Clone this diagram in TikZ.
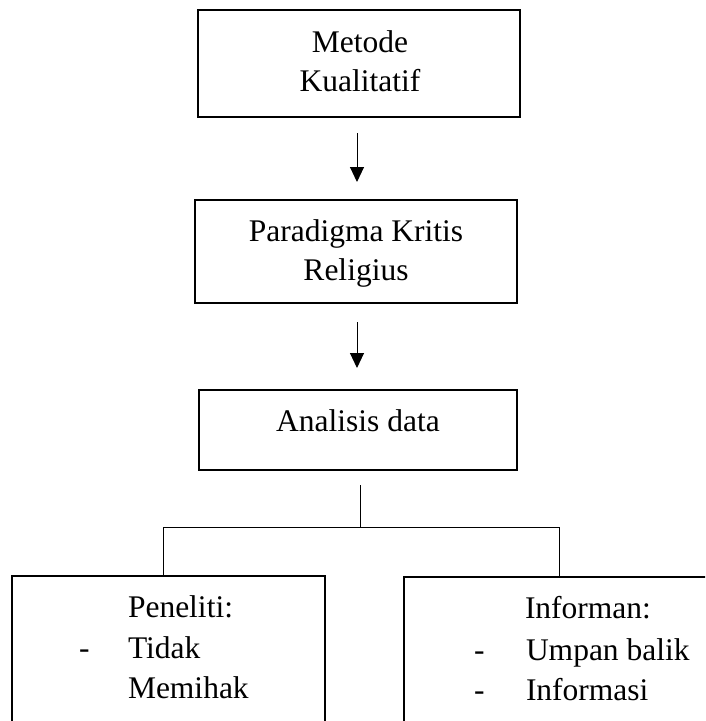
\documentclass[tikz,border=0pt]{standalone}
\usepackage{fontspec}
\setmainfont{Liberation Serif}
\usetikzlibrary{arrows.meta}
\begin{document}
\begin{tikzpicture}[x=1pt,y=-1pt,
  box/.style={draw,line width=1.8pt,inner sep=0pt,outer sep=0pt},
  txt/.style={inner sep=0pt,outer sep=0pt,font=\fontsize{31.5pt}{38pt}\selectfont},
  conn/.style={line width=1pt},
  arr/.style={line width=1pt,-{Triangle[width=14pt,length=15pt]}}]
\useasboundingbox (0,0) rectangle (705,721);
\clip (0,0) rectangle (705,721);
\fill[white] (0,0) rectangle (705,721);
% boxes
\node[box,minimum width=322pt,minimum height=107pt] (met) at (359,63.5) {};
\node[box,minimum width=322pt,minimum height=103pt] (par) at (356,251.5) {};
\node[box,minimum width=318pt,minimum height=80pt] (ana) at (358,430) {};
\node[box,minimum width=313pt,minimum height=224pt] (pen) at (168.5,688) {};
\node[box,minimum width=356pt,minimum height=223pt] (inf) at (582,688.5) {};
% texts
\node[txt,anchor=base] (t1) at (360,52) {Metode};
\node[txt,anchor=base] (t2) at (360,91) {Kualitatif};
\node[txt,anchor=base] (t3) at (356,241) {Paradigma Kritis};
\node[txt,anchor=base] (t4) at (356,280) {Religius};
\node[txt,anchor=base] (t5) at (358,431) {Analisis data};
\node[txt,anchor=base west] (p1) at (128,617) {Peneliti:};
\node[txt,anchor=base west] (p2d) at (79,658) {-};
\node[txt,anchor=base west] (p2) at (128,658) {Tidak};
\node[txt,anchor=base west] (p3) at (128,698) {Memihak};
\node[txt,anchor=base west] (i1) at (525,618) {Informan:};
\node[txt,anchor=base west] (i2d) at (474,660) {-};
\node[txt,anchor=base west] (i2) at (526,660) {Umpan balik};
\node[txt,anchor=base west] (i3d) at (474,700) {-};
\node[txt,anchor=base west] (i3) at (526,700) {Informasi};
% arrows
\coordinate (a1s) at (357,133);
\coordinate (a1e) at (357,182);
\coordinate (a2s) at (357,322);
\coordinate (a2e) at (357,368);
\draw[arr] (a1s) -- (a1e);
\draw[arr] (a2s) -- (a2e);
% tree
\coordinate (b0) at (360,485);
\coordinate (b1) at (360,527);
\coordinate (bl) at (163,527);
\coordinate (br) at (559,527);
\draw[conn] (b0) -- (b1);
\draw[conn] (bl |- pen.north) -- (bl) -- (br) -- (br |- inf.north);
\end{tikzpicture}
\end{document}
